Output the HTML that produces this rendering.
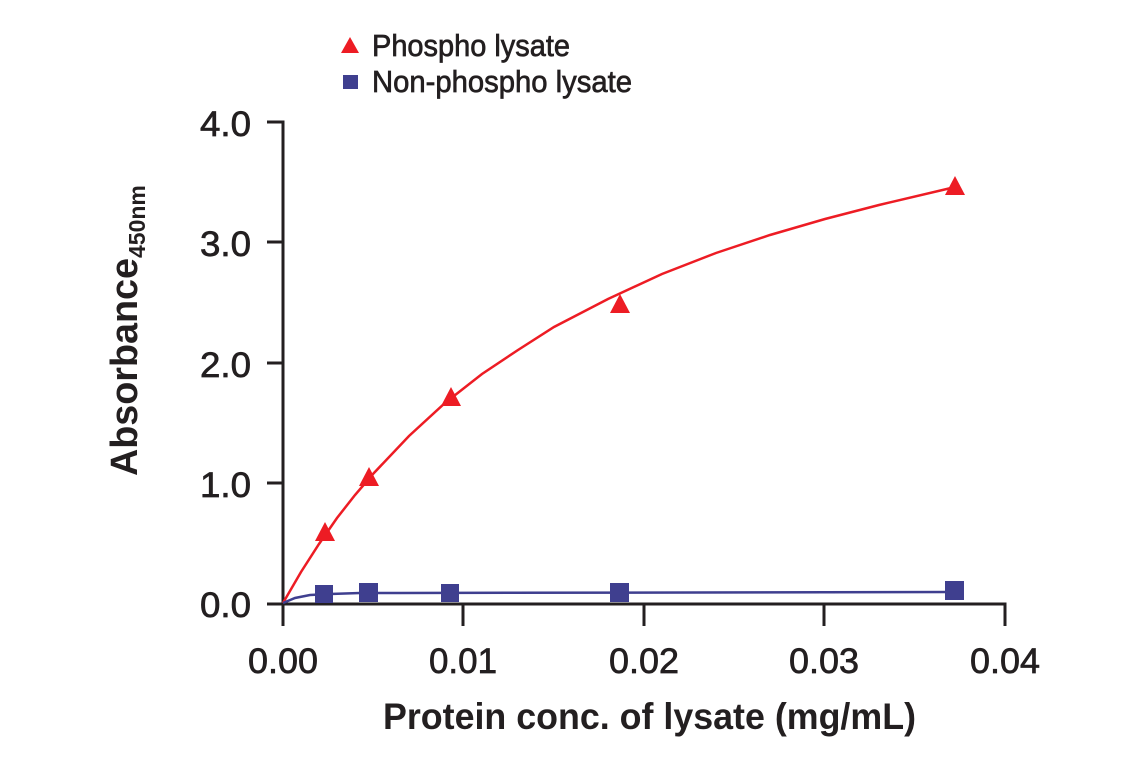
<!DOCTYPE html>
<html><head><style>body{margin:0;background:#fff}svg{display:block}text{font-family:"Liberation Sans Narrow","Liberation Sans",sans-serif;fill:#231f20}.m{stroke:#231f20;stroke-width:0.7}</style></head>
<body>
<svg width="1141" height="768" viewBox="0 0 1141 768">
<polygon points="341,53 359,53 350,37" fill="#ed1c24"/>
<text class="m" x="372" y="56" font-size="31" textLength="198" lengthAdjust="spacingAndGlyphs">Phospho lysate</text>
<rect x="343" y="75" width="15" height="14" fill="#3f3f8f"/>
<text class="m" x="372" y="92" font-size="31" textLength="260" lengthAdjust="spacingAndGlyphs">Non-phospho lysate</text>
<g stroke="#231f20" stroke-width="3" fill="none">
<path d="M267,122 H283 V604 H1005 V626"/>
<path d="M267,242 H283 M267,363 H283 M267,483 H283 M267,604 H283"/>
<path d="M283,604 V626 M463,604 V626 M644,604 V626 M824,604 V626"/>
</g>
<g font-size="35" class="m">
<text x="200" y="136" textLength="51" lengthAdjust="spacingAndGlyphs">4.0</text>
<text x="200" y="256" textLength="51" lengthAdjust="spacingAndGlyphs">3.0</text>
<text x="200" y="377" textLength="51" lengthAdjust="spacingAndGlyphs">2.0</text>
<text x="200" y="497" textLength="51" lengthAdjust="spacingAndGlyphs">1.0</text>
<text x="200" y="617" textLength="51" lengthAdjust="spacingAndGlyphs">0.0</text>
</g>
<g font-size="35" class="m">
<text x="248" y="673" textLength="70" lengthAdjust="spacingAndGlyphs">0.00</text>
<text x="429" y="673" textLength="68" lengthAdjust="spacingAndGlyphs">0.01</text>
<text x="609" y="673" textLength="70" lengthAdjust="spacingAndGlyphs">0.02</text>
<text x="789" y="673" textLength="70" lengthAdjust="spacingAndGlyphs">0.03</text>
<text x="970" y="673" textLength="70" lengthAdjust="spacingAndGlyphs">0.04</text>
</g>
<text x="383" y="729" font-size="37" font-weight="bold" textLength="533" lengthAdjust="spacingAndGlyphs">Protein conc. of lysate (mg/mL)</text>
<text transform="translate(137,476) rotate(-90)" font-size="38" font-weight="bold"><tspan textLength="218" lengthAdjust="spacingAndGlyphs">Absorbance</tspan><tspan font-size="23" dy="8">450nm</tspan></text>
<polyline fill="none" stroke="#ed1c24" stroke-width="2.5" points="283,603 301,572 319,544 337,518 355,495 373,474 409,436 445,403 482,374 518,350 554,327 608,299 662,274 716,253 770,235 825,219 879,205 951,188 955,187"/>
<polyline fill="none" stroke="#3f3f8f" stroke-width="2.5" points="283,603 295,598 310,595 330,594 360,593 400,593 955,592"/>
<g fill="#ed1c24">
<polygon points="315,541 335,541 325,522"/>
<polygon points="359,486 379,486 369,467"/>
<polygon points="441,406 461,406 451,387"/>
<polygon points="610,313 630,313 620,294"/>
<polygon points="945,195 965,195 955,176"/>
</g>
<g fill="#3f3f8f">
<rect x="315" y="585" width="18" height="18"/>
<rect x="359" y="583" width="19" height="19"/>
<rect x="441" y="584" width="18" height="18"/>
<rect x="610" y="583" width="19" height="19"/>
<rect x="945" y="581" width="19" height="19"/>
</g>
</svg>
</body></html>
